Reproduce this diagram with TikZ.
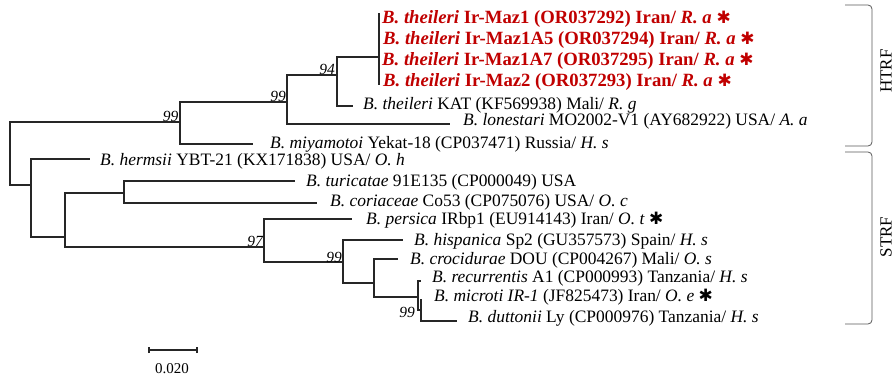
\documentclass[tikz,border=0pt]{standalone}
\usepackage{fontspec}
\setmainfont{Liberation Serif}
\newfontfamily\starfont{DejaVu Sans}
\definecolor{isored}{RGB}{192,0,0}
\newcommand\isostar{{\starfont\fontsize{17}{17}\selectfont ✱}}
\begin{document}
\begin{tikzpicture}[x=1pt,y=-1pt,
  branch/.style={line width=1.1pt, draw=black!85},
  leaf/.style={anchor=base west, inner sep=0pt, font=\fontsize{17.45}{20}\selectfont},
  newleaf/.style={leaf, text=isored, font=\fontsize{18.7}{20}\selectfont\bfseries},
  boot/.style={anchor=base east, inner sep=0pt, font=\fontsize{15.5}{18}\selectfont\itshape},
  clade/.style={draw=black!65, line width=0.8pt, rounded corners=4pt},
  cladelabel/.style={rotate=90, inner sep=0pt, font=\fontsize{17}{20}\selectfont},
  scalebar/.style={line width=1.1pt, draw=black!85}]
\useasboundingbox (0,0) rectangle (895,378);

% internal nodes
\coordinate (R)   at (10,153.5);
\coordinate (N1)  at (180,122);
\coordinate (N2)  at (287,102);
\coordinate (N3)  at (337,75);
\coordinate (N4)  at (379,57);
\coordinate (N4t) at (379,13);
\coordinate (N4b) at (379,85);
\coordinate (N5)  at (31,185);
\coordinate (N6)  at (65,237);
\coordinate (N7)  at (124,193);
\coordinate (N8)  at (264,247);
\coordinate (N9)  at (343,262);
\coordinate (N10) at (374,283);
\coordinate (N11) at (418,297);
\coordinate (N12) at (421,310);

% leaf tips
\coordinate (kat) at (353,106);
\coordinate (lon) at (450,124);
\coordinate (miy) at (253,144);
\coordinate (her) at (90,159);
\coordinate (tur) at (295,181);
\coordinate (cor) at (317,203);
\coordinate (per) at (352,219);
\coordinate (his) at (403,240);
\coordinate (cro) at (398,259);
\coordinate (rec) at (421,281);
\coordinate (mic) at (421,299);
\coordinate (dut) at (457,321);

% branches
\draw[branch] (R) |- (N1);  \draw[branch] (R) |- (N5);
\draw[branch] (N1) |- (N2); \draw[branch] (N1) |- (miy);
\draw[branch] (N2) |- (N3); \draw[branch] (N2) |- (lon);
\draw[branch] (N3) |- (N4); \draw[branch] (N3) |- (kat);
\draw[branch] (N4t) -- (N4b);
\draw[branch] (N5) |- (her); \draw[branch] (N5) |- (N6);
\draw[branch] (N6) |- (N7);  \draw[branch] (N6) |- (N8);
\draw[branch] (N7) |- (tur); \draw[branch] (N7) |- (cor);
\draw[branch] (N8) |- (per); \draw[branch] (N8) |- (N9);
\draw[branch] (N9) |- (his); \draw[branch] (N9) |- (N10);
\draw[branch] (N10) |- (cro); \draw[branch] (N10) |- (N11);
\draw[branch] (N11) |- (rec); \draw[branch] (N11) |- (N12);
\draw[branch] (N12) |- (mic); \draw[branch] (N12) |- (dut);

% bootstrap values
\node[boot] (b1) at (178.5,121) {99};
\node[boot] (b2) at (286,101.5) {99};
\node[boot] (b3) at (335,74.5) {94};
\node[boot] (b4) at (263,246.5) {97};
\node[boot] (b5) at (342,262) {99};
\node[boot] (b6) at (415,317) {99};

% taxa
\node[newleaf] (t1) at (382,23) {\textit{B. theileri} Ir-Maz1 (OR037292) Iran/ \textit{R. a} \isostar};
\node[newleaf] (t2) at (383,44) {\textit{B. theileri} Ir-Maz1A5 (OR037294) Iran/ \textit{R. a} \isostar};
\node[newleaf] (t3) at (382,65) {\textit{B. theileri} Ir-Maz1A7 (OR037295) Iran/ \textit{R. a} \isostar};
\node[newleaf] (t4) at (383,86) {\textit{B. theileri} Ir-Maz2 (OR037293) Iran/ \textit{R. a} \isostar};
\node[leaf] (t5) at (363,109) {\textit{B. theileri} KAT (KF569938) Mali/ \textit{R. g}};
\node[leaf] (t6) at (463,125) {\textit{B. lonestari} MO2002-V1 (AY682922) USA/ \textit{A. a}};
\node[leaf] (t7) at (270,148) {\textit{B. miyamotoi} Yekat-18 (CP037471) Russia/ \textit{H. s}};
\node[leaf] (t8) at (100,165) {\textit{B. hermsii} YBT-21 (KX171838) USA/ \textit{O. h}};
\node[leaf] (t9) at (306,186) {\textit{B. turicatae} 91E135 (CP000049) USA};
\node[leaf] (t10) at (330,206) {\textit{B. coriaceae} Co53 (CP075076) USA/ \textit{O. c}};
\node[leaf] (t11) at (366,224) {\textit{B. persica} IRbp1 (EU914143) Iran/ \textit{O. t} \isostar};
\node[leaf] (t12) at (414,245) {\textit{B. hispanica} Sp2 (GU357573) Spain/ \textit{H. s}};
\node[leaf] (t13) at (410,264) {\textit{B. crocidurae} DOU (CP004267) Mali/ \textit{O. s}};
\node[leaf] (t14) at (432,282) {\textit{B. recurrentis} A1 (CP000993) Tanzania/ \textit{H. s}};
\node[leaf] (t15) at (434,301) {\textit{B. microti IR-1} (JF825473) Iran/ \textit{O. e} \isostar};
\node[leaf] (t16) at (468,322) {\textit{B. duttonii} Ly (CP000976) Tanzania/ \textit{H. s}};

% clade brackets
\coordinate (ht) at (845,5);
\coordinate (hm) at (872,75);
\coordinate (hb) at (845,146);
\coordinate (st) at (845,152);
\coordinate (sm) at (872,238);
\coordinate (sb) at (845,324);
\draw[clade] (ht) -| (hm) |- (hb);
\draw[clade] (st) -| (sm) |- (sb);
\node[cladelabel] (htrf) at (886,71) {HTRF};
\node[cladelabel] (strf) at (886,237) {STRF};

% scale bar
\coordinate (s1) at (149,350);
\coordinate (s2) at (197,350);
\draw[scalebar] (s1) -- (s2);
\draw[scalebar] ([yshift=-3pt]s1) -- ([yshift=3pt]s1);
\draw[scalebar] ([yshift=-3pt]s2) -- ([yshift=3pt]s2);
\node[inner sep=0pt, font=\fontsize{15}{18}\selectfont] (scl) at (172,369) {0.020};
\end{tikzpicture}
\end{document}
